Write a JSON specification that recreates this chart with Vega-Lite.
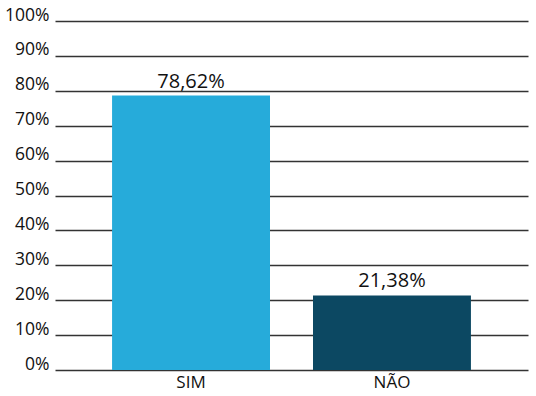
{
  "$schema": "https://vega.github.io/schema/vega-lite/v6.json",
  "width": 473,
  "height": 349,
  "autosize": {"type": "none"},
  "padding": {"left": 55, "top": 21, "right": 8, "bottom": 26},
  "background": "white",
  "config": {
    "view": {"stroke": null},
    "font": "Open Sans",
    "locale": {"number": {"decimal": ",", "thousands": ".", "grouping": [3], "currency": ["R$", ""]}}
  },
  "data": {"values": [
    {"resposta": "SIM", "valor": 0.7862},
    {"resposta": "NÃO", "valor": 0.2138}
  ]},
  "encoding": {
    "x": {"field": "resposta", "type": "nominal", "sort": null,
      "scale": {"paddingInner": 0.214, "paddingOuter": 0.284},
      "axis": {"title": null, "labelAngle": 0, "domain": false, "ticks": false, "labelFontSize": 17, "labelColor": "#111", "labelPadding": 4, "labelFont": "Open Sans"}},
    "y": {"field": "valor", "type": "quantitative",
      "scale": {"domain": [0, 1], "nice": false},
      "axis": {"title": null, "format": ".0%", "values": [0,0.1,0.2,0.3,0.4,0.5,0.6,0.7,0.8,0.9,1], "labelOverlap": false, "labelBaseline": "alphabetic", "labelOffset": -1, "labelBound": false, "domain": false, "ticks": false, "labelFontSize": 17.5, "labelColor": "#111", "labelPadding": 6, "gridColor": "#333", "gridWidth": 1.5, "gridOpacity": 1, "labelFont": "Open Sans"}}
  },
  "layer": [
    {"mark": {"type": "bar"},
     "encoding": {"color": {"field": "resposta", "type": "nominal", "legend": null,
       "scale": {"domain": ["SIM", "NÃO"], "range": ["#26ABDA", "#0C4862"]}}}},
    {"mark": {"type": "text", "baseline": "bottom", "dy": -4, "fontSize": 20, "color": "#111"},
     "encoding": {"text": {"field": "valor", "type": "quantitative", "format": ".2%"}}}
  ]
}
